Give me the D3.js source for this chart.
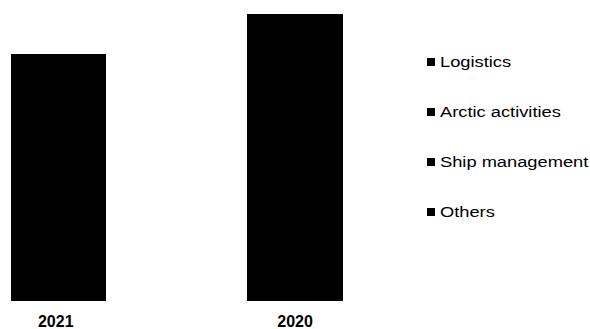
<!DOCTYPE html>
<html>
  <head>
    <meta charset="utf-8" />
    <script src="https://d3js.org/d3.v7.min.js"></script>
    <title>Segments by year</title>
    <style>
      body { margin: 0; background: #fff; }
      svg { display: block; font-family: Arial, "Liberation Sans", sans-serif; }
    </style>
  </head>
  <body>
    <svg id="chart" width="590" height="329"></svg>

    <script>
    // data
    var years = ["2021", "2020"];
    var segments = ["Logistics", "Arctic activities", "Ship management", "Others"];
    var logistics = [35, 40];
    var arctic = [22, 25];
    var shipMgmt = [14, 17];
    var others = [15, 18];

    var rows = years.map(function(y, i) {
        return {
            year: y,
            "Logistics": logistics[i],
            "Arctic activities": arctic[i],
            "Ship management": shipMgmt[i],
            "Others": others[i]
        };
    });

    var svg = d3.select("#chart");

    var x = d3.scaleBand()
        .domain(years)
        .range([11, 342.8])
        .paddingInner(0.596)
        .paddingOuter(0);

    var y = d3.scaleLinear()
        .domain([0, 100])
        .range([300, 14]);

    var stacked = d3.stack().keys(segments)(rows);

    // bars, all segments black
    svg.append("g").selectAll("g")
        .data(stacked)
        .enter().append("g")
        .attr("fill", "#000")
        .selectAll("rect")
        .data(function(d) { return d; })
        .enter().append("rect")
        .attr("x", function(d) { return x(d.data.year); })
        .attr("y", function(d) { return y(d[1]) - 0.5; })
        .attr("width", x.bandwidth())
        .attr("height", function(d) { return y(d[0]) - y(d[1]) + 1; })
        .attr("shape-rendering", "crispEdges");

    // year labels
    svg.append("g").selectAll("text")
        .data(years)
        .enter().append("text")
        .attr("x", function(d) { return x(d) + x.bandwidth() / 2 - (d === "2021" ? 3 : 0); })
        .attr("y", 327)
        .attr("text-anchor", "middle")
        .attr("font-size", 16)
        .attr("font-weight", "bold")
        .attr("fill", "#000")
        .text(function(d) { return d; });

    // legend
    var legend = svg.append("g").selectAll("g")
        .data(segments)
        .enter().append("g")
        .attr("transform", function(d, i) { return "translate(427," + (66.5 + i * 50) + ")"; });

    legend.append("rect")
        .attr("x", 0)
        .attr("y", -8.5)
        .attr("width", 8)
        .attr("height", 8)
        .attr("fill", "#000");

    legend.append("text")
        .attr("transform", "translate(13,0) scale(1.18,1)")
        .attr("font-size", 15.5)
        .attr("fill", "#000")
        .text(function(d) { return d; });
    </script>
  </body>
</html>
